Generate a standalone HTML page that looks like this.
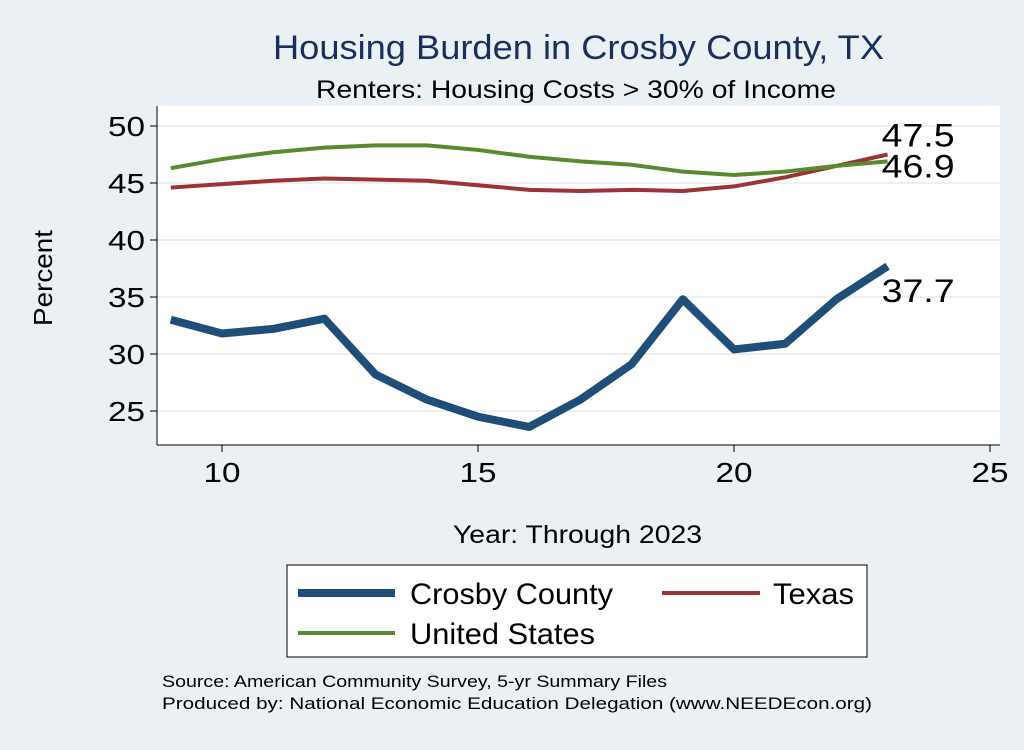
<!DOCTYPE html>
<html><head><meta charset="utf-8"><style>
body{margin:0;background:#eaf0f3;font-family:"Liberation Sans",Arial,sans-serif}
svg text{font-family:"Liberation Sans",Arial,sans-serif}
</style></head><body>
<svg id="c" width="1024" height="745" xmlns="http://www.w3.org/2000/svg">
<rect width="1024" height="745" fill="#eaf0f3"/>
<text x="273" y="59" font-size="34" fill="#1a2f5a" textLength="611" lengthAdjust="spacingAndGlyphs">Housing Burden in Crosby County, TX</text>
<text x="316" y="98" font-size="25" textLength="520" lengthAdjust="spacingAndGlyphs">Renters: Housing Costs &gt; 30% of Income</text>
<rect x="157" y="106" width="843" height="339" fill="#fff"/>
<g id="grid"></g>
<line x1="157" y1="106" x2="157" y2="445" stroke="#000" stroke-width="1"/>
<line x1="157" y1="445" x2="1000" y2="445" stroke="#000" stroke-width="1"/>
<g id="ticks"></g>
<g id="series"></g>
<text x="52" y="278" font-size="26" text-anchor="middle" textLength="96" lengthAdjust="spacingAndGlyphs" transform="rotate(-90 52 278)">Percent</text>
<text x="453" y="543" font-size="25" textLength="249" lengthAdjust="spacingAndGlyphs">Year: Through 2023</text>
<g>
<rect x="287" y="565" width="580" height="92" fill="#fff" stroke="#000" stroke-width="1"/>
<line x1="298" y1="593" x2="395" y2="593" stroke="#1f4e79" stroke-width="8"/>
<text x="410" y="604" font-size="30" textLength="203" lengthAdjust="spacingAndGlyphs">Crosby County</text>
<line x1="662" y1="593" x2="760" y2="593" stroke="#9b3438" stroke-width="4"/>
<text x="773" y="604" font-size="30" textLength="81" lengthAdjust="spacingAndGlyphs">Texas</text>
<line x1="298" y1="633" x2="395" y2="633" stroke="#5a8a2e" stroke-width="4"/>
<text x="410" y="644" font-size="30" textLength="185" lengthAdjust="spacingAndGlyphs">United States</text>
</g>
<text x="162" y="687" font-size="17" textLength="505" lengthAdjust="spacingAndGlyphs">Source: American Community Survey, 5-yr Summary Files</text>
<text x="162" y="709" font-size="17" textLength="710" lengthAdjust="spacingAndGlyphs">Produced by: National Economic Education Delegation (www.NEEDEcon.org)</text>
</svg>
<script>
const years=[9,10,11,12,13,14,15,16,17,18,19,20,21,22,23];
const crosby=[33.0,31.8,32.2,33.1,28.2,26.0,24.5,23.6,26.0,29.1,34.8,30.4,30.9,34.8,37.7];
const texas=[44.6,44.9,45.2,45.4,45.3,45.2,44.8,44.4,44.3,44.4,44.3,44.7,45.5,46.5,47.5];
const us=[46.3,47.1,47.7,48.1,48.3,48.3,47.9,47.3,46.9,46.6,46.0,45.7,46.0,46.5,46.9];
const xTicks=[10,15,20,25];
const yTicks=[25,30,35,40,45,50];
const X=v=>222+(v-10)*51.2;
const Y=v=>126+(50-v)*11.4;
const NS="http://www.w3.org/2000/svg";
function mk(t,a,p){const e=document.createElementNS(NS,t);for(const k in a)e.setAttribute(k,a[k]);p.appendChild(e);return e;}
const g=document.getElementById('grid'),tk=document.getElementById('ticks'),s=document.getElementById('series');
yTicks.forEach(v=>{
 const l=mk('line',{x1:157,x2:1000,y1:Y(v),y2:Y(v),stroke:'#e6ebee','stroke-width':1.5},g);
 
 
 mk('line',{x1:150,x2:157,y1:Y(v),y2:Y(v),stroke:'#000'},tk);
 const t=mk('text',{x:145,y:Y(v)+10,'font-size':28,'text-anchor':'end',textLength:37,lengthAdjust:'spacingAndGlyphs'},tk);t.textContent=v;
 
 
});
xTicks.forEach(v=>{
 mk('line',{x1:X(v),x2:X(v),y1:445,y2:452,stroke:'#000'},tk);
 const t=mk('text',{x:X(v),y:482,'font-size':28,'text-anchor':'middle',textLength:37,lengthAdjust:'spacingAndGlyphs'},tk);t.textContent=v;
 
 
});
function line(d,c,w,n){
 const p=mk('polyline',{points:years.map((y,i)=>X(y)+','+Y(d[i])).join(' '),fill:'none',stroke:c,'stroke-width':w,'stroke-linejoin':'round'},s);
 
 
}
line(texas,'#9b3438',4,'texas-line');
line(us,'#5a8a2e',4,'us-line');
line(crosby,'#1f4e79',8,'crosby-line');
function lab(v,dy,n){const L=years.length-1;const t=mk('text',{x:X(years[L])-6,y:Y(v)+dy,'font-size':32,textLength:73,lengthAdjust:'spacingAndGlyphs'},s);t.textContent=v.toFixed(1);
 
 }
lab(texas[14],-8,'label-texas');
lab(us[14],16,'label-us');
lab(crosby[14],36,'label-crosby');
</script>
</body></html>
